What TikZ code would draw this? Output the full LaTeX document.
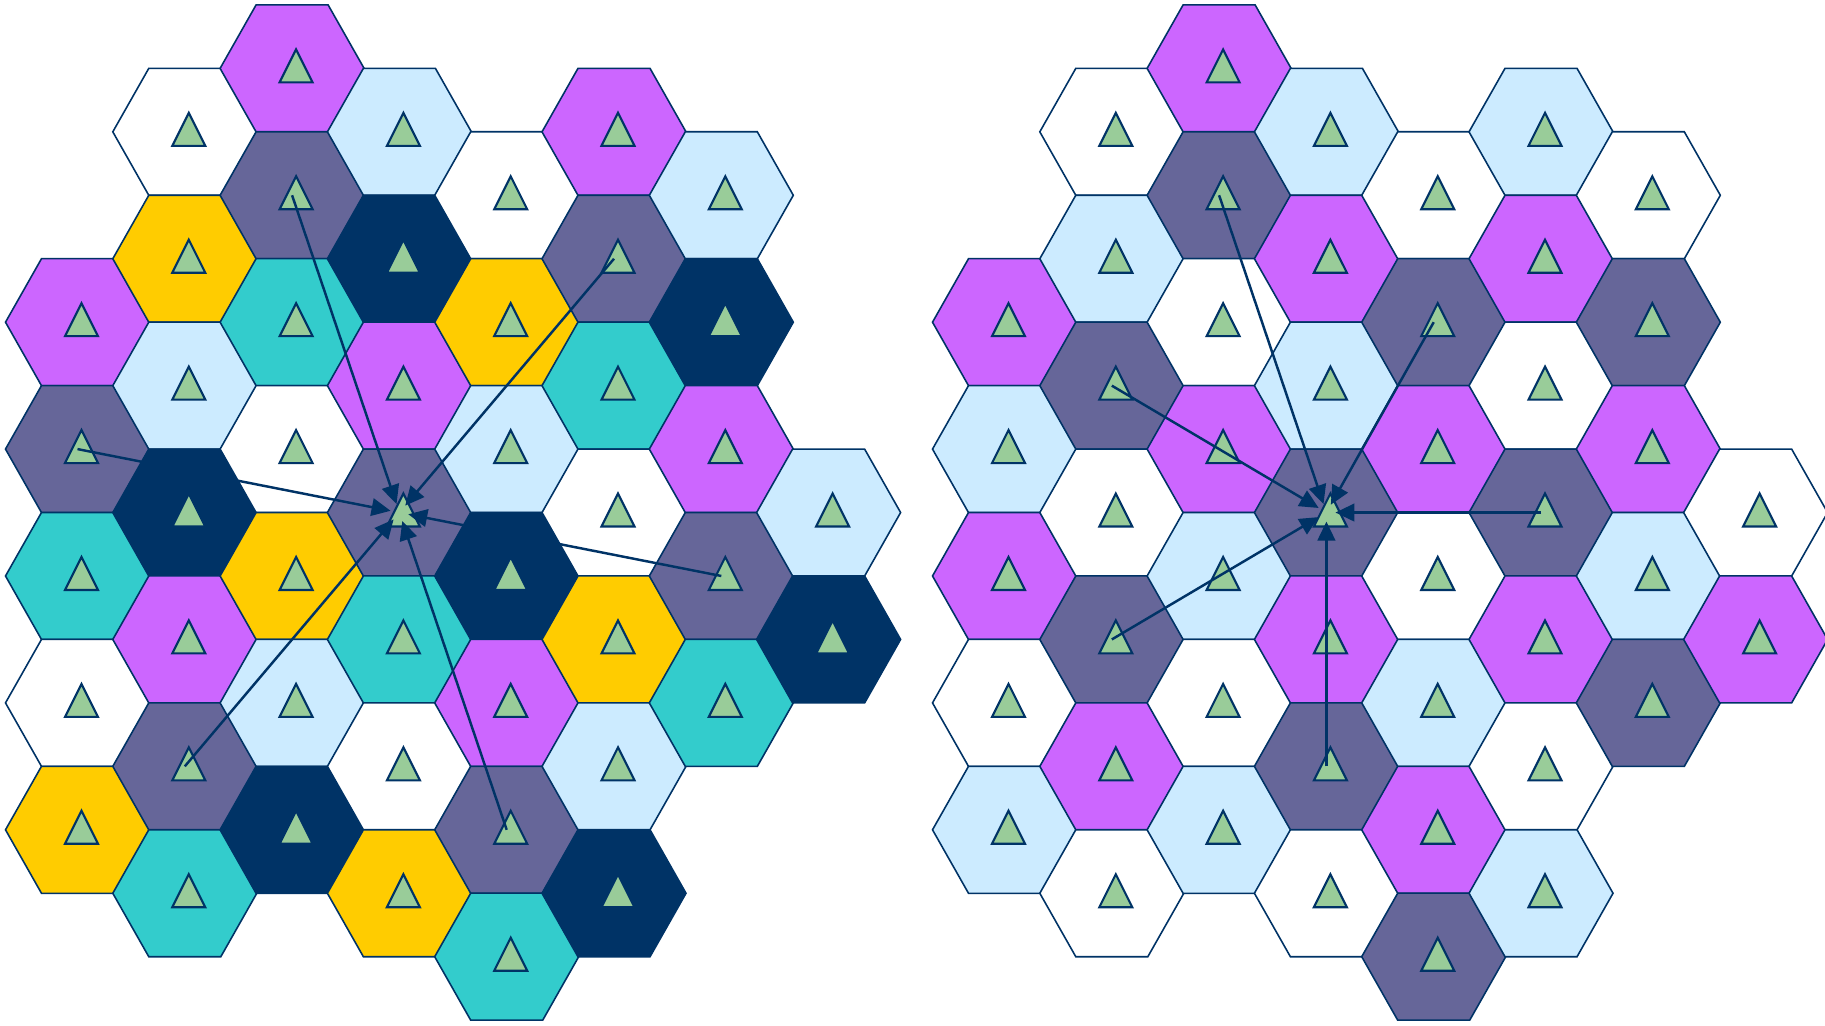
\documentclass[tikz,border=0pt]{standalone}
\usepackage{tikz}
\usetikzlibrary{arrows.meta}
\definecolor{hexpurple}{HTML}{CC66FF}
\definecolor{hexsky}{HTML}{CCEBFF}
\definecolor{hexslate}{HTML}{666699}
\definecolor{hexnavy}{HTML}{003366}
\definecolor{hexteal}{HTML}{33CCCC}
\definecolor{hexgold}{HTML}{FFCC00}
\definecolor{hexwhite}{HTML}{FFFFFF}
\definecolor{treegreen}{HTML}{99CC99}
\tikzset{
  hexcell/.style={draw=hexnavy, line width=0.45pt},
  tree/.style={fill=treegreen, draw=hexnavy, line width=0.6pt},
  flow/.style={draw=hexnavy, line width=0.7pt,
    -{Triangle[length=5.4pt,width=5pt]}, shorten >=0.09cm},
}

\begin{document}
\begin{tikzpicture}[x=1cm,y=1cm]
  \useasboundingbox (0,0) rectangle (18.25,10.25);

  %% Left field of cells
  \foreach \c/\k/\col in {0/2/purple,0/3/slate,0/4/teal,0/5/white,0/6/gold,
      1/0/white,1/1/gold,1/2/sky,1/3/navy,1/4/purple,1/5/slate,1/6/teal,
      2/0/purple,2/1/slate,2/2/teal,2/3/white,2/4/gold,2/5/sky,2/6/navy,
      3/0/sky,3/1/navy,3/2/purple,3/3/slate,3/4/teal,3/5/white,3/6/gold,
      4/1/white,4/2/gold,4/3/sky,4/4/navy,4/5/purple,4/6/slate,4/7/teal,
      5/0/purple,5/1/slate,5/2/teal,5/3/white,5/4/gold,5/5/sky,5/6/navy,
      6/1/sky,6/2/navy,6/3/purple,6/4/slate,6/5/teal,
      7/3/sky,7/4/navy} {
    \coordinate (l-\c-\k) at ({0.775+1.073*\c},{9.566-0.6345*mod(\c,2)-1.269*\k});
    \filldraw[hexcell, fill=hex\col] (l-\c-\k) ++(-0.72,0) -- ++(0.36,0.635)
      -- ++(0.72,0) -- ++(0.36,-0.635) -- ++(-0.36,-0.635) -- ++(-0.72,0) -- cycle;
    \filldraw[tree] (l-\c-\k) ++(0.04,0.19) -- ++(-0.165,-0.33) -- ++(0.33,0) -- cycle;
  }

  %% Right field of cells
  \foreach \c/\k/\col in {0/2/purple,0/3/sky,0/4/purple,0/5/white,0/6/sky,
      1/0/white,1/1/sky,1/2/slate,1/3/white,1/4/slate,1/5/purple,1/6/white,
      2/0/purple,2/1/slate,2/2/white,2/3/purple,2/4/sky,2/5/white,2/6/sky,
      3/0/sky,3/1/purple,3/2/sky,3/3/slate,3/4/purple,3/5/slate,3/6/white,
      4/1/white,4/2/slate,4/3/purple,4/4/white,4/5/sky,4/6/purple,4/7/slate,
      5/0/sky,5/1/purple,5/2/white,5/3/slate,5/4/purple,5/5/white,5/6/sky,
      6/1/white,6/2/slate,6/3/purple,6/4/sky,6/5/slate,
      7/3/white,7/4/purple} {
    \coordinate (r-\c-\k) at ({10.045+1.073*\c},{9.566-0.6345*mod(\c,2)-1.269*\k});
    \filldraw[hexcell, fill=hex\col] (r-\c-\k) ++(-0.72,0) -- ++(0.36,0.635)
      -- ++(0.72,0) -- ++(0.36,-0.635) -- ++(-0.36,-0.635) -- ++(-0.72,0) -- cycle;
    \filldraw[tree] (r-\c-\k) ++(0.04,0.19) -- ++(-0.165,-0.33) -- ++(0.33,0) -- cycle;
  }

  %% Links into the middle cell
  \foreach \s in {0-3,2-1,5-1,6-4,4-6,1-5}
    \draw[flow] (l-\s) -- (l-3-3);
  \foreach \s in {2-1,1-2,1-4,3-5,5-3,4-2}
    \draw[flow] (r-\s) -- (r-3-3);
\end{tikzpicture}
\end{document}
